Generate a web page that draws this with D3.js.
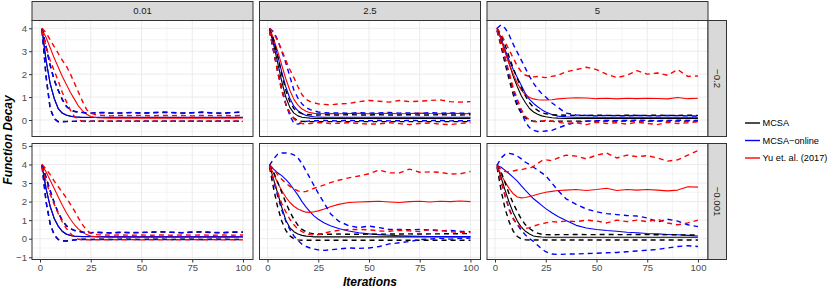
<!DOCTYPE html>
<html>
<head>
<meta charset="utf-8">
<script src="https://cdn.jsdelivr.net/npm/d3@7"></script>
<style>
  body { margin: 0; background: #fff; }
  text { font-family: 'Liberation Sans', Arial, Helvetica, sans-serif; }
</style>
</head>
<body>
<div id="chart-area"></div>
<script>
var iterations = [1, 3, 5, 7, 9, 11, 13, 15, 17, 19, 21, 23, 25, 28, 31, 35, 40, 45, 50, 55, 60, 65, 70, 75, 80, 85, 90, 95, 100];

var colLabels = ['0.01', '2.5', '5'];
var rowLabels = ['\u22120.2', '\u22120.001'];
var methods = ['MCSA', 'MCSA\u2212online', 'Yu et. al. (2017)'];
var colors = ['#000000', '#0000FF', '#FF0000'];
var xTicks = [0, 25, 50, 75, 100];
var yTicksTop = [0, 1, 2, 3, 4];
var yTicksBottom = [-1, 0, 1, 2, 3, 4, 5];

// each method: [mean, upper, lower]
// panel 1 : 0.01 / -0.2  (MCSA sits almost exactly under MCSA-online)
var p1Mcsa = [
  [3.95, 2.58, 1.58, 0.93, 0.49, 0.29, 0.21, 0.16, 0.13, 0.12, 0.11, 0.11, 0.11, 0.11, 0.11, 0.11, 0.11, 0.11, 0.11, 0.11, 0.11, 0.11, 0.11, 0.11, 0.11, 0.11, 0.11, 0.11, 0.11],
  [4.0, 3.18, 2.38, 1.73, 1.28, 0.88, 0.59, 0.44, 0.37, 0.34, 0.32, 0.3, 0.3, 0.31, 0.32, 0.3, 0.3, 0.32, 0.3, 0.31, 0.33, 0.32, 0.3, 0.31, 0.33, 0.3, 0.3, 0.32, 0.34],
  [3.9, 1.88, 0.5, 0.06, -0.07, -0.07, -0.06, -0.06, -0.06, -0.05, -0.05, -0.05, -0.05, -0.05, -0.05, -0.05, -0.05, -0.05, -0.05, -0.05, -0.05, -0.05, -0.05, -0.05, -0.05, -0.05, -0.05, -0.05, -0.05]
];
var p1Online = [
  [3.95, 2.6, 1.6, 0.95, 0.5, 0.3, 0.22, 0.17, 0.14, 0.13, 0.12, 0.12, 0.12, 0.12, 0.12, 0.12, 0.12, 0.12, 0.12, 0.12, 0.12, 0.12, 0.12, 0.12, 0.12, 0.12, 0.12, 0.12, 0.12],
  [4.0, 3.2, 2.4, 1.75, 1.3, 0.9, 0.6, 0.45, 0.38, 0.35, 0.33, 0.31, 0.3, 0.32, 0.33, 0.3, 0.31, 0.33, 0.3, 0.32, 0.35, 0.33, 0.3, 0.32, 0.35, 0.31, 0.3, 0.33, 0.36],
  [3.9, 1.9, 0.5, 0.05, -0.08, -0.08, -0.07, -0.06, -0.06, -0.05, -0.06, -0.05, -0.06, -0.05, -0.06, -0.06, -0.05, -0.06, -0.05, -0.06, -0.06, -0.05, -0.06, -0.05, -0.06, -0.06, -0.05, -0.06, -0.06]
];
var p1Yu = [
  [3.95, 3.6, 3.15, 2.7, 2.3, 1.9, 1.55, 1.2, 0.9, 0.6, 0.4, 0.25, 0.15, 0.1, 0.09, 0.08, 0.09, 0.08, 0.09, 0.08, 0.09, 0.08, 0.09, 0.08, 0.09, 0.08, 0.09, 0.08, 0.09],
  [4.0, 3.8, 3.5, 3.2, 2.9, 2.6, 2.35, 2.0, 1.6, 1.2, 0.8, 0.45, 0.3, 0.22, 0.2, 0.18, 0.2, 0.19, 0.2, 0.18, 0.2, 0.19, 0.2, 0.18, 0.2, 0.19, 0.2, 0.18, 0.2],
  [3.9, 3.2, 2.6, 2.15, 1.7, 1.2, 0.8, 0.42, 0.15, 0.0, -0.06, -0.07, -0.06, -0.05, -0.06, -0.05, -0.06, -0.05, -0.06, -0.05, -0.06, -0.05, -0.06, -0.05, -0.06, -0.05, -0.06, -0.05, -0.06]
];

// panel 2 : 2.5 / -0.2
var p2Mcsa = [
  [3.95, 3.3, 2.5, 1.7, 1.0, 0.55, 0.3, 0.18, 0.12, 0.1, 0.08, 0.07, 0.07, 0.07, 0.07, 0.07, 0.07, 0.07, 0.07, 0.07, 0.07, 0.07, 0.07, 0.07, 0.07, 0.07, 0.07, 0.07, 0.07],
  [4.0, 3.5, 2.8, 2.0, 1.3, 0.8, 0.5, 0.35, 0.28, 0.25, 0.23, 0.22, 0.22, 0.23, 0.22, 0.22, 0.23, 0.22, 0.22, 0.23, 0.22, 0.22, 0.23, 0.22, 0.22, 0.23, 0.22, 0.22, 0.23],
  [3.9, 3.0, 2.1, 1.3, 0.7, 0.3, 0.08, -0.03, -0.06, -0.07, -0.07, -0.07, -0.07, -0.07, -0.07, -0.07, -0.07, -0.07, -0.07, -0.07, -0.07, -0.07, -0.07, -0.07, -0.07, -0.07, -0.07, -0.07, -0.07]
];
var p2Online = [
  [3.95, 3.45, 2.8, 2.1, 1.45, 0.95, 0.6, 0.4, 0.28, 0.2, 0.16, 0.14, 0.13, 0.12, 0.12, 0.12, 0.12, 0.12, 0.12, 0.12, 0.12, 0.12, 0.12, 0.12, 0.12, 0.12, 0.12, 0.12, 0.12],
  [4.0, 3.85, 3.5, 3.0, 2.5, 1.9, 1.3, 0.95, 0.7, 0.55, 0.45, 0.4, 0.35, 0.32, 0.3, 0.31, 0.29, 0.32, 0.3, 0.31, 0.33, 0.3, 0.31, 0.29, 0.32, 0.3, 0.31, 0.3, 0.29],
  [3.9, 3.0, 2.2, 1.4, 0.7, 0.2, -0.15, -0.18, -0.12, -0.06, -0.04, -0.03, -0.03, -0.02, -0.03, -0.04, -0.02, -0.03, -0.03, -0.02, -0.04, -0.03, -0.02, -0.03, -0.03, -0.02, -0.04, -0.03, -0.03]
];
var p2Yu = [
  [4.0, 3.55, 3.0, 2.4, 1.8, 1.3, 0.9, 0.65, 0.48, 0.38, 0.32, 0.29, 0.28, 0.27, 0.28, 0.27, 0.28, 0.29, 0.27, 0.28, 0.29, 0.27, 0.28, 0.3, 0.28, 0.27, 0.29, 0.28, 0.28],
  [4.0, 3.8, 3.45, 3.05, 2.6, 2.2, 1.85, 1.45, 1.1, 0.9, 0.8, 0.75, 0.7, 0.68, 0.66, 0.7, 0.72, 0.8, 0.85, 0.82, 0.78, 0.85, 0.8, 0.82, 0.85, 0.88, 0.8, 0.78, 0.8],
  [3.9, 3.0, 2.1, 1.3, 0.7, 0.3, 0.05, -0.1, -0.15, -0.17, -0.15, -0.13, -0.12, -0.12, -0.16, -0.14, -0.12, -0.15, -0.18, -0.17, -0.12, -0.16, -0.2, -0.15, -0.13, -0.18, -0.2, -0.15, -0.12]
];

// panel 3 : 5 / -0.2
var p3Mcsa = [
  [4.0, 3.55, 3.0, 2.45, 1.9, 1.45, 1.05, 0.75, 0.5, 0.35, 0.25, 0.18, 0.14, 0.1, 0.08, 0.07, 0.07, 0.07, 0.07, 0.07, 0.07, 0.07, 0.07, 0.07, 0.07, 0.07, 0.07, 0.07, 0.07],
  [4.0, 3.7, 3.25, 2.75, 2.25, 1.8, 1.4, 1.05, 0.75, 0.55, 0.42, 0.32, 0.27, 0.23, 0.22, 0.21, 0.2, 0.2, 0.21, 0.2, 0.2, 0.21, 0.2, 0.2, 0.21, 0.2, 0.2, 0.21, 0.2],
  [3.9, 3.2, 2.45, 1.75, 1.1, 0.6, 0.28, 0.08, -0.02, -0.05, -0.06, -0.05, -0.05, -0.05, -0.05, -0.05, -0.05, -0.05, -0.05, -0.05, -0.05, -0.05, -0.05, -0.05, -0.05, -0.05, -0.05, -0.05, -0.05]
];
var p3Online = [
  [4.0, 3.55, 3.05, 2.6, 2.2, 1.85, 1.5, 1.15, 0.9, 0.72, 0.58, 0.45, 0.35, 0.24, 0.17, 0.14, 0.12, 0.12, 0.12, 0.12, 0.12, 0.12, 0.12, 0.12, 0.12, 0.12, 0.12, 0.12, 0.12],
  [4.0, 4.15, 4.0, 3.7, 3.3, 2.95, 2.6, 2.25, 1.9, 1.6, 1.35, 1.15, 1.0, 0.75, 0.55, 0.3, 0.22, 0.2, 0.18, 0.2, 0.19, 0.18, 0.2, 0.19, 0.18, 0.2, 0.19, 0.18, 0.17],
  [3.9, 3.4, 2.7, 1.95, 1.3, 0.75, 0.35, -0.1, -0.33, -0.45, -0.5, -0.5, -0.48, -0.45, -0.35, -0.22, -0.1, -0.05, -0.03, -0.02, -0.03, -0.02, -0.01, -0.02, -0.03, -0.02, -0.01, -0.02, -0.02]
];
var p3Yu = [
  [4.0, 3.5, 2.95, 2.45, 2.0, 1.6, 1.3, 1.1, 0.98, 0.92, 0.88, 0.87, 0.87, 0.88, 0.92, 0.95, 0.97, 0.96, 0.93, 0.95, 0.92, 0.95, 0.93, 0.95, 0.94, 0.92, 0.98, 0.93, 0.95],
  [4.0, 3.75, 3.4, 3.05, 2.7, 2.35, 2.1, 1.95, 1.9, 1.88, 1.9, 1.87, 1.85, 1.9, 1.95, 2.1, 2.2, 2.3, 2.2, 2.0, 1.85, 1.95, 2.15, 2.0, 2.05, 1.95, 2.2, 1.9, 1.92],
  [3.9, 3.3, 2.7, 2.05, 1.4, 0.9, 0.45, 0.15, 0.0, -0.07, -0.08, -0.05, -0.02, -0.05, -0.1, -0.15, -0.12, -0.2, -0.1, -0.15, -0.12, -0.18, -0.1, -0.15, -0.2, -0.1, -0.15, -0.12, -0.08]
];

// panel 4 : 0.01 / -0.001  (MCSA again hidden under MCSA-online)
var p4Mcsa = [
  [3.95, 2.68, 1.73, 1.08, 0.66, 0.39, 0.24, 0.17, 0.13, 0.12, 0.11, 0.11, 0.11, 0.11, 0.11, 0.11, 0.11, 0.11, 0.11, 0.11, 0.11, 0.11, 0.11, 0.11, 0.11, 0.11, 0.11, 0.11, 0.11],
  [4.0, 3.28, 2.58, 1.93, 1.38, 0.98, 0.69, 0.54, 0.44, 0.39, 0.35, 0.33, 0.32, 0.34, 0.32, 0.31, 0.34, 0.32, 0.33, 0.35, 0.36, 0.34, 0.32, 0.35, 0.36, 0.33, 0.32, 0.35, 0.35],
  [3.9, 1.98, 0.8, 0.21, -0.04, -0.11, -0.12, -0.09, -0.06, -0.04, -0.03, -0.03, -0.04, -0.03, -0.03, -0.04, -0.03, -0.03, -0.04, -0.03, -0.03, -0.04, -0.03, -0.03, -0.04, -0.03, -0.03, -0.04, -0.03]
];
var p4Online = [
  [3.95, 2.7, 1.75, 1.1, 0.68, 0.4, 0.25, 0.18, 0.14, 0.13, 0.12, 0.12, 0.12, 0.12, 0.12, 0.12, 0.12, 0.12, 0.12, 0.12, 0.12, 0.12, 0.12, 0.12, 0.12, 0.12, 0.12, 0.12, 0.12],
  [4.0, 3.3, 2.6, 1.95, 1.4, 1.0, 0.7, 0.55, 0.45, 0.4, 0.36, 0.34, 0.33, 0.35, 0.33, 0.32, 0.35, 0.33, 0.34, 0.36, 0.38, 0.35, 0.33, 0.36, 0.38, 0.34, 0.33, 0.36, 0.37],
  [3.9, 2.0, 0.8, 0.2, -0.05, -0.12, -0.13, -0.1, -0.07, -0.05, -0.04, -0.04, -0.05, -0.04, -0.04, -0.05, -0.04, -0.04, -0.05, -0.04, -0.04, -0.05, -0.04, -0.04, -0.05, -0.04, -0.04, -0.05, -0.04]
];
var p4Yu = [
  [3.95, 3.6, 3.15, 2.7, 2.25, 1.8, 1.4, 1.05, 0.75, 0.52, 0.35, 0.22, 0.15, 0.1, 0.08, 0.07, 0.08, 0.07, 0.08, 0.07, 0.08, 0.07, 0.08, 0.07, 0.08, 0.07, 0.08, 0.07, 0.08],
  [4.0, 3.75, 3.45, 3.1, 2.8, 2.5, 2.2, 1.85, 1.5, 1.1, 0.75, 0.45, 0.3, 0.22, 0.2, 0.19, 0.2, 0.19, 0.2, 0.19, 0.2, 0.19, 0.2, 0.19, 0.2, 0.19, 0.2, 0.19, 0.2],
  [3.85, 3.1, 2.4, 1.85, 1.35, 0.9, 0.55, 0.28, 0.08, -0.03, -0.06, -0.05, -0.06, -0.05, -0.06, -0.05, -0.06, -0.05, -0.06, -0.05, -0.06, -0.05, -0.06, -0.05, -0.06, -0.05, -0.06, -0.05, -0.06]
];

// panel 5 : 2.5 / -0.001
var p5Mcsa = [
  [3.95, 3.2, 2.45, 1.7, 1.0, 0.6, 0.38, 0.25, 0.18, 0.14, 0.12, 0.1, 0.1, 0.1, 0.1, 0.1, 0.1, 0.1, 0.1, 0.1, 0.1, 0.1, 0.1, 0.1, 0.1, 0.1, 0.1, 0.1, 0.1],
  [4.0, 3.6, 3.05, 2.5, 1.95, 1.45, 1.05, 0.72, 0.5, 0.38, 0.3, 0.26, 0.25, 0.24, 0.24, 0.25, 0.24, 0.24, 0.25, 0.24, 0.25, 0.25, 0.26, 0.25, 0.26, 0.26, 0.27, 0.27, 0.28],
  [3.85, 2.7, 1.7, 0.95, 0.45, 0.15, 0.0, -0.06, -0.08, -0.08, -0.08, -0.08, -0.08, -0.08, -0.08, -0.08, -0.08, -0.08, -0.08, -0.08, -0.08, -0.08, -0.08, -0.08, -0.08, -0.08, -0.08, -0.08, -0.08]
];
var p5Online = [
  [3.95, 3.75, 3.55, 3.4, 3.2, 2.95, 2.65, 2.35, 2.0, 1.7, 1.45, 1.22, 1.05, 0.85, 0.7, 0.55, 0.42, 0.32, 0.26, 0.22, 0.19, 0.16, 0.14, 0.13, 0.12, 0.12, 0.11, 0.11, 0.11],
  [3.95, 4.3, 4.55, 4.62, 4.62, 4.6, 4.52, 4.35, 4.05, 3.65, 3.25, 2.85, 2.45, 1.9, 1.35, 0.95, 0.7, 0.6, 0.68, 0.6, 0.5, 0.5, 0.48, 0.5, 0.47, 0.42, 0.45, 0.4, 0.38],
  [3.9, 3.1, 2.3, 1.55, 0.95, 0.5, 0.15, -0.1, -0.3, -0.42, -0.5, -0.56, -0.6, -0.63, -0.6, -0.55, -0.5, -0.52, -0.5, -0.42, -0.28, -0.22, -0.15, -0.05, -0.02, 0.02, -0.02, 0.02, 0.03]
];
var p5Yu = [
  [3.95, 3.5, 3.0, 2.6, 2.25, 1.95, 1.75, 1.6, 1.5, 1.43, 1.42, 1.45, 1.5, 1.6, 1.72, 1.85, 1.95, 1.98, 2.0, 2.02, 1.98, 1.95, 2.0, 2.02, 1.98, 2.02, 2.0, 2.03, 2.0],
  [4.0, 3.75, 3.45, 3.2, 3.0, 2.82, 2.68, 2.58, 2.52, 2.55, 2.62, 2.72, 2.8, 2.9, 3.02, 3.15, 3.28, 3.38, 3.5, 3.7, 3.55, 3.55, 3.75, 3.58, 3.6, 3.58, 3.48, 3.5, 3.62],
  [3.9, 3.2, 2.5, 1.9, 1.45, 1.05, 0.75, 0.52, 0.38, 0.28, 0.22, 0.2, 0.22, 0.3, 0.38, 0.45, 0.5, 0.5, 0.48, 0.42, 0.4, 0.45, 0.42, 0.38, 0.5, 0.45, 0.38, 0.35, 0.33]
];

// panel 6 : 5 / -0.001
var p6Mcsa = [
  [3.95, 3.3, 2.6, 1.95, 1.4, 0.95, 0.62, 0.4, 0.25, 0.15, 0.11, 0.09, 0.08, 0.08, 0.08, 0.08, 0.08, 0.08, 0.08, 0.08, 0.08, 0.08, 0.08, 0.08, 0.08, 0.08, 0.08, 0.08, 0.08],
  [4.0, 3.6, 3.0, 2.4, 1.9, 1.45, 1.05, 0.75, 0.55, 0.4, 0.3, 0.24, 0.22, 0.21, 0.22, 0.22, 0.23, 0.22, 0.22, 0.23, 0.22, 0.22, 0.23, 0.22, 0.21, 0.22, 0.21, 0.2, 0.2],
  [3.85, 2.6, 1.6, 0.9, 0.4, 0.12, -0.02, -0.06, -0.07, -0.07, -0.07, -0.07, -0.07, -0.07, -0.07, -0.07, -0.07, -0.07, -0.07, -0.07, -0.07, -0.07, -0.07, -0.07, -0.07, -0.07, -0.07, -0.07, -0.07]
];
var p6Online = [
  [3.95, 3.85, 3.68, 3.5, 3.3, 3.1, 2.85, 2.6, 2.38, 2.15, 1.98, 1.8, 1.62, 1.4, 1.2, 0.98, 0.72, 0.58, 0.5, 0.44, 0.4, 0.35, 0.32, 0.28, 0.26, 0.23, 0.21, 0.18, 0.15],
  [3.95, 4.35, 4.55, 4.6, 4.55, 4.45, 4.3, 4.12, 4.0, 3.85, 3.7, 3.55, 3.4, 3.0, 2.6, 2.15, 1.85, 1.6, 1.45, 1.35, 1.3, 1.25, 1.22, 1.12, 0.9, 1.05, 0.95, 0.75, 0.65],
  [3.9, 3.1, 2.3, 1.6, 1.1, 0.75, 0.45, 0.2, 0.0, -0.15, -0.35, -0.55, -0.7, -0.82, -0.85, -0.83, -0.82, -0.8, -0.78, -0.76, -0.74, -0.7, -0.66, -0.62, -0.58, -0.5, -0.42, -0.38, -0.42]
];
var p6Yu = [
  [3.95, 3.45, 3.05, 2.7, 2.42, 2.25, 2.2, 2.22, 2.27, 2.33, 2.4, 2.45, 2.5, 2.55, 2.6, 2.62, 2.65, 2.6, 2.65, 2.72, 2.6, 2.65, 2.62, 2.65, 2.62, 2.58, 2.62, 2.8, 2.78],
  [3.95, 3.75, 3.62, 3.6, 3.65, 3.7, 3.72, 3.78, 3.8, 3.9, 4.05, 4.2, 4.25, 4.2, 4.35, 4.5, 4.45, 4.3, 4.5, 4.62, 4.35, 4.5, 4.42, 4.48, 4.35, 4.18, 4.25, 4.5, 4.75],
  [3.9, 3.1, 2.3, 1.55, 1.05, 0.75, 0.6, 0.55, 0.6, 0.68, 0.75, 0.8, 0.85, 0.92, 0.9, 0.95, 0.92, 1.0, 0.95, 0.85, 1.0, 0.92, 1.0, 0.92, 1.05, 0.85, 0.75, 0.85, 1.0]
];

var panels = [
  { row: 0, col: 0, data: [p1Mcsa, p1Online, p1Yu] },
  { row: 0, col: 1, data: [p2Mcsa, p2Online, p2Yu] },
  { row: 0, col: 2, data: [p3Mcsa, p3Online, p3Yu] },
  { row: 1, col: 0, data: [p4Mcsa, p4Online, p4Yu] },
  { row: 1, col: 1, data: [p5Mcsa, p5Online, p5Yu] },
  { row: 1, col: 2, data: [p6Mcsa, p6Online, p6Yu] }
];

// layout
var colLeft = [32, 259.5, 487];
var rowTop = [20.5, 143.5];
var panelW = 221;
var panelH = 116;
var stripH = 19;
var stripW = 18.5;
var yDomains = [[-0.72, 4.34], [-1.12, 5.13]];
var yTicks = [yTicksTop, yTicksBottom];
var smallFont = '9.6px';

var svg = d3.select('#chart-area')
  .append('svg')
  .attr('width', 830)
  .attr('height', 289);

var xScales = colLeft.map(function(left) {
  return d3.scaleLinear().domain([-3.95, 104.95]).range([left, left + panelW]);
});
var yScales = rowTop.map(function(top, i) {
  return d3.scaleLinear().domain(yDomains[i]).range([top + panelH, top]);
});

var defs = svg.append('defs');

panels.forEach(function(p, i) {
  var x = xScales[p.col];
  var y = yScales[p.row];
  var left = colLeft[p.col];
  var top = rowTop[p.row];
  var g = svg.append('g');

  g.append('rect')
    .attr('x', left).attr('y', top)
    .attr('width', panelW).attr('height', panelH)
    .attr('fill', '#fff');

  // minor grid
  var yMajor = yTicks[p.row];
  var yMinor = [];
  for (var k = -1; k < yMajor.length; k++) {
    var v = (k < 0 ? yMajor[0] - 1 : yMajor[k]) + 0.5;
    if (v > yDomains[p.row][0] && v < yDomains[p.row][1]) yMinor.push(v);
  }
  var xMinor = [12.5, 37.5, 62.5, 87.5];

  g.selectAll('.xminor').data(xMinor).enter().append('line')
    .attr('x1', function(d) { return x(d); }).attr('x2', function(d) { return x(d); })
    .attr('y1', top).attr('y2', top + panelH)
    .attr('stroke', '#ebebeb').attr('stroke-width', 0.5);
  g.selectAll('.yminor').data(yMinor).enter().append('line')
    .attr('x1', left).attr('x2', left + panelW)
    .attr('y1', function(d) { return y(d); }).attr('y2', function(d) { return y(d); })
    .attr('stroke', '#ebebeb').attr('stroke-width', 0.5);

  // major grid
  g.selectAll('.xmajor').data(xTicks).enter().append('line')
    .attr('x1', function(d) { return x(d); }).attr('x2', function(d) { return x(d); })
    .attr('y1', top).attr('y2', top + panelH)
    .attr('stroke', '#ebebeb').attr('stroke-width', 1);
  g.selectAll('.ymajor').data(yMajor).enter().append('line')
    .attr('x1', left).attr('x2', left + panelW)
    .attr('y1', function(d) { return y(d); }).attr('y2', function(d) { return y(d); })
    .attr('stroke', '#ebebeb').attr('stroke-width', 1);

  defs.append('clipPath').attr('id', 'clip' + i)
    .append('rect')
      .attr('x', left).attr('y', top)
      .attr('width', panelW).attr('height', panelH);

  var line = d3.line()
    .x(function(d, j) { return x(iterations[j]); })
    .y(function(d) { return y(d); });

  var lines = g.append('g').attr('clip-path', 'url(#clip' + i + ')');

  // layers: means, then upper bounds, then lower bounds
  [0, 1, 2].forEach(function(stat) {
    p.data.forEach(function(series, m) {
      lines.append('path')
        .attr('d', line(series[stat]))
        .attr('fill', 'none')
        .attr('stroke', colors[m])
        .attr('stroke-width', stat === 0 ? 1.1 : 1.4)
        .attr('stroke-dasharray', stat === 0 ? null : '5,4')
        .attr('stroke-linejoin', 'round');
    });
  });

  // border
  g.append('rect')
    .attr('x', left).attr('y', top)
    .attr('width', panelW).attr('height', panelH)
    .attr('fill', 'none')
    .attr('stroke', '#333333')
    .attr('stroke-width', 1);
});

// top strips
colLabels.forEach(function(label, c) {
  svg.append('rect')
    .attr('x', colLeft[c]).attr('y', rowTop[0] - stripH)
    .attr('width', panelW).attr('height', stripH)
    .attr('fill', '#d9d9d9')
    .attr('stroke', '#333333').attr('stroke-width', 1);
  svg.append('text')
    .attr('x', colLeft[c] + panelW / 2)
    .attr('y', rowTop[0] - stripH / 2)
    .attr('dy', '0.35em')
    .attr('text-anchor', 'middle')
    .attr('font-size', smallFont)
    .attr('fill', '#1a1a1a')
    .text(label);
});

// right strips
var stripX = colLeft[2] + panelW;
rowLabels.forEach(function(label, r) {
  svg.append('rect')
    .attr('x', stripX).attr('y', rowTop[r])
    .attr('width', stripW).attr('height', panelH)
    .attr('fill', '#d9d9d9')
    .attr('stroke', '#333333').attr('stroke-width', 1);
  var cx = stripX + stripW / 2;
  var cy = rowTop[r] + panelH / 2;
  svg.append('text')
    .attr('transform', 'translate(' + cx + ',' + cy + ') rotate(90)')
    .attr('dy', '0.35em')
    .attr('text-anchor', 'middle')
    .attr('font-size', smallFont)
    .attr('fill', '#1a1a1a')
    .text(label);
});

// Y axes
yScales.forEach(function(y, r) {
  var axis = svg.append('g')
    .attr('transform', 'translate(' + colLeft[0] + ',0)')
    .call(d3.axisLeft(y).tickValues(yTicks[r]).tickFormat(d3.format('d')).tickSize(3).tickPadding(2));
  axis.select('.domain').remove();
  axis.selectAll('line').attr('stroke', '#333333');
  axis.selectAll('text')
    .attr('fill', '#4d4d4d')
    .attr('font-size', smallFont)
    .attr('font-family', null);
});

// X axes
xScales.forEach(function(x) {
  var axis = svg.append('g')
    .attr('transform', 'translate(0,' + (rowTop[1] + panelH) + ')')
    .call(d3.axisBottom(x).tickValues(xTicks).tickFormat(d3.format('d')).tickSize(3).tickPadding(2));
  axis.select('.domain').remove();
  axis.selectAll('line').attr('stroke', '#333333');
  axis.selectAll('text')
    .attr('fill', '#4d4d4d')
    .attr('font-size', smallFont)
    .attr('font-family', null);
});

// X Label
svg.append('text')
  .attr('x', colLeft[0] + (colLeft[2] + panelW - colLeft[0]) / 2)
  .attr('y', 286)
  .attr('text-anchor', 'middle')
  .attr('font-size', '12px')
  .attr('font-weight', 'bold')
  .attr('font-style', 'italic')
  .text('Iterations');

// Y Label
svg.append('text')
  .attr('transform', 'translate(12,' + ((rowTop[0] + rowTop[1] + panelH) / 2) + ') rotate(-90)')
  .attr('text-anchor', 'middle')
  .attr('font-size', '12px')
  .attr('font-weight', 'bold')
  .attr('font-style', 'italic')
  .text('Function Decay');

// Legend
var legend = svg.append('g').attr('transform', 'translate(745,123)');
methods.forEach(function(name, i) {
  legend.append('line')
    .attr('x1', 0).attr('x2', 15)
    .attr('y1', i * 17.5).attr('y2', i * 17.5)
    .attr('stroke', colors[i])
    .attr('stroke-width', 1.4);
  legend.append('text')
    .attr('x', 17.5)
    .attr('y', i * 17.5)
    .attr('dy', '0.35em')
    .attr('font-size', '9.2px')
    .text(name);
});
</script>
</body>
</html>
